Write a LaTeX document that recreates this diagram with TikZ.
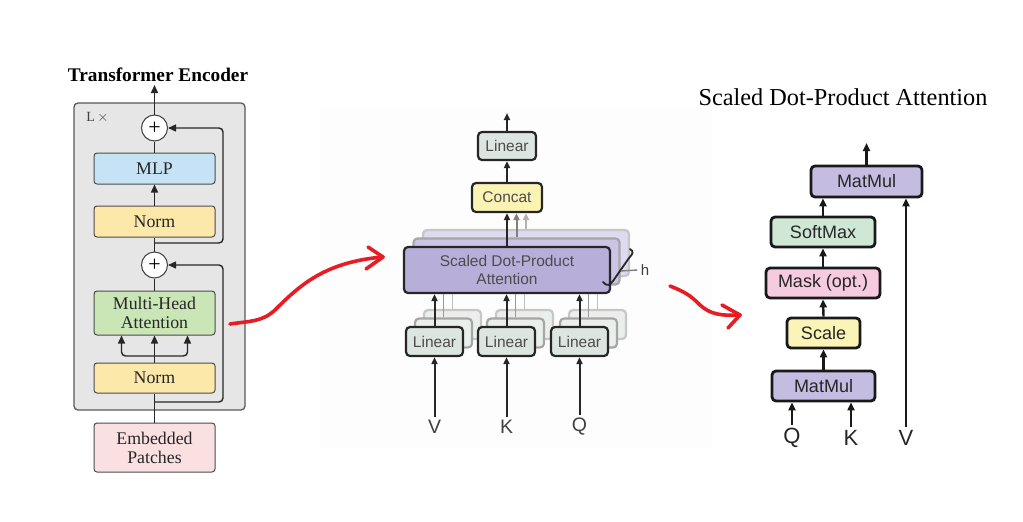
\documentclass[tikz,border=0pt]{standalone}
\usepackage{fontspec}
\setmainfont{Liberation Serif}
\newfontfamily\hvfam{Liberation Sans}
\usetikzlibrary{arrows.meta,calc}
\definecolor{encC}{HTML}{E6E6E6}
\definecolor{mlpC}{HTML}{C6E3F5}
\definecolor{normC}{HTML}{FCE8A9}
\definecolor{mhaC}{HTML}{CAE6B6}
\definecolor{embC}{HTML}{FAE0E0}
\definecolor{linC}{HTML}{DDE5E0}
\definecolor{linBC}{HTML}{EAEFEC}
\definecolor{concC}{HTML}{FAF3B4}
\definecolor{sdaC}{HTML}{B8AEDA}
\definecolor{sdbC}{HTML}{CBC4E5}
\definecolor{sdcC}{HTML}{DEDAEF}
\definecolor{mmC}{HTML}{C5BDE1}
\definecolor{smC}{HTML}{CFE8D6}
\definecolor{mkC}{HTML}{F6CADF}
\definecolor{scC}{HTML}{FBF4B7}
\definecolor{redC}{HTML}{E81C24}
\definecolor{bgC}{HTML}{FDFDFD}
\newcommand\myLfont{\fontsize{17.8}{19}\selectfont}
\newcommand\myMfont{\hvfam\fontsize{15.5}{18}\selectfont}
\newcommand\myRfont{\hvfam\fontsize{18}{21}\selectfont}
\tikzset{
  lbox/.style={draw=black!70, line width=1pt, rounded corners=3pt, minimum width=121pt, inner sep=0pt, font=\myLfont, text=black!85, align=center},
  circ/.style={circle, draw=black!75, line width=1pt, fill=white, minimum size=26pt, inner sep=0pt, font=\fontsize{22}{22}\selectfont},
  lln/.style={draw=black!85, line width=1.4pt},
  larr/.style={lln, -{Triangle[length=8pt,width=7pt]}},
  mbox/.style={draw=black!85, line width=2.2pt, rounded corners=4pt, inner sep=0pt, font=\myMfont, text=black!70, align=center},
  mback/.style={mbox, draw=black!35},
  mln/.style={draw=black!85, line width=2pt},
  marr/.style={mln, -{Triangle[length=7pt,width=6pt]}},
  gln/.style={draw=black!40, line width=1.6pt},
  rbox/.style={draw=black!90, line width=2.8pt, rounded corners=4pt, inner sep=0pt, minimum height=30pt, font=\myRfont, text=black!85},
  rarr/.style={draw=black!90, line width=2.4pt, -{Triangle[length=8pt,width=7pt]}},
  redarr/.style={draw=redC, line width=3.6pt, line cap=round, line join=round},
}
\begin{document}
\begin{tikzpicture}[x=1pt,y=-1pt]
\useasboundingbox (0,0) rectangle (1023,522);
\fill[white] (0,0) rectangle (1023,522);
% ---------- left panel ----------
\node[font=\bfseries\fontsize{19.3}{20}\selectfont] (title1) at (158,75) {Transformer Encoder};
\node[draw=black!65, line width=1.3pt, fill=encC, rounded corners=4pt, minimum width=171pt, minimum height=307pt, inner sep=0pt] (enc) at (159.5,256.5) {};
\node[font=\fontsize{14}{14}\selectfont, text=black!75] (lx) at (97.5,117.5) {L\,$\times$};
\node[lbox, fill=embC, minimum height=49pt] (emb) at (154.5,447.5) {Embedded\\Patches};
\node[lbox, fill=normC, minimum height=30pt] (norm1) at (154.5,378) {Norm};
\node[lbox, fill=mhaC, minimum height=44pt] (mha) at (154.5,313) {Multi-Head\\Attention};
\node[circ] (add1) at (154.5,265) {+};
\node[lbox, fill=normC, minimum height=31pt] (norm2) at (154.5,221.5) {Norm};
\node[lbox, fill=mlpC, minimum height=31pt] (mlp) at (154.5,168.5) {MLP};
\node[circ] (add2) at (154.5,128) {+};
\coordinate (r1) at (154.5,402);
\coordinate (rc1) at (223,402);
\coordinate (br) at (154.5,356);
\coordinate (r2) at (154.5,243);
\coordinate (rc2) at (223,243);
\coordinate (out1) at (154.5,85);
\draw[lln] (emb.north) -- (norm1.south);
\draw[larr, rounded corners=4pt] (r1) -- (rc1) |- (add1.east);
\draw[lln] (norm1.north) -- (br);
\draw[larr, rounded corners=4pt] (br) -| ([xshift=-33pt]mha.south);
\draw[larr, rounded corners=4pt] (br) -| ([xshift=33pt]mha.south);
\draw[larr] (br) -- (mha.south);
\draw[lln] (mha.north) -- (add1.south);
\draw[lln] (add1.north) -- (norm2.south);
\draw[larr, rounded corners=4pt] (r2) -- (rc2) |- (add2.east);
\draw[larr] (norm2.north) -- (mlp.south);
\draw[lln] (mlp.north) -- (add2.south);
\draw[larr] (add2.north) -- (out1);
% ---------- middle panel ----------
\fill[bgC] (320,108) rectangle (712,448);
\node[mbox, fill=linC, minimum width=58pt, minimum height=28pt] (linT) at (507,146) {Linear};
\node[mbox, fill=concC, minimum width=70pt, minimum height=29pt] (concat) at (507,197.5) {Concat};
\node[mback, fill=sdcC, draw=black!22, minimum width=206pt, minimum height=46pt] (sd3) at (526,253) {};
\node[mback, fill=sdbC, minimum width=206pt, minimum height=46pt] (sd2) at (516.5,261.5) {};
\foreach \n/\x in {a/434.5,b/506.5,c/579.5}{
  \node[mback, fill=linBC, draw=black!22, minimum width=57pt, minimum height=29pt] (lin\n3) at (\x+18,324.5) {};
  \node[mback, fill=linBC, minimum width=57pt, minimum height=29pt] (lin\n2) at (\x+9,333) {};
  \draw[gln, draw=black!25] (lin\n3.north) -- (lin\n3.north |- sd3.south);
  \draw[gln] (lin\n2.north) -- (lin\n2.north |- sd2.south);
}
\draw[marr, draw=black!30] (sd3.north) -- (sd3.north |- concat.south);
\draw[marr, draw=black!50] (sd2.north) -- (sd2.north |- concat.south);
\node[mbox, fill=sdaC, minimum width=206pt, minimum height=46pt] (sd1) at (507,270) {Scaled Dot-Product\\Attention};
\node[mbox, fill=linC, minimum width=57pt, minimum height=29pt] (lina) at (434.5,341.5) {Linear};
\node[mbox, fill=linC, minimum width=57pt, minimum height=29pt] (linb) at (506.5,341.5) {Linear};
\node[mbox, fill=linC, minimum width=57pt, minimum height=29pt] (linc) at (579.5,341.5) {Linear};
\node[font=\hvfam\fontsize{19.5}{19.5}\selectfont, text=black!75] (vm) at (434.5,427) {V};
\node[font=\hvfam\fontsize{19.5}{19.5}\selectfont, text=black!75] (km) at (506.5,427) {K};
\node[font=\hvfam\fontsize{19.5}{19.5}\selectfont, text=black!75] (qm) at (579.5,427) {Q};
\coordinate (mout) at (507,113);
\draw[marr] (linT.north) -- (mout);
\draw[marr] (concat.north) -- (linT.south);
\draw[marr] (sd1.north) -- (concat.south);
\draw[marr] (lina.north) -- (lina.north |- sd1.south);
\draw[marr] (linb.north) -- (linb.north |- sd1.south);
\draw[marr] (linc.north) -- (linc.north |- sd1.south);
\draw[marr] (vm.north) -- (lina.south);
\draw[marr] (km.north) -- (linb.south);
\draw[marr] (qm.north) -- (linc.south);
% brace h
\coordinate (hb1) at (603,282);
\coordinate (hb2) at (629,258);
\coordinate (hb3) at (630,249);
\draw[draw=black!85, line width=1.8pt, line cap=round] (hb1) .. controls (607,287) and (610,285) .. (613,281) -- (hb2) .. controls (633,254) and (634,251) .. (hb3);
\node[font=\hvfam\fontsize{15}{15}\selectfont, text=black!75] (hlab) at (645,270) {h};
\draw[draw=black!50, line width=1.4pt] (621,271) -- (hlab.west);
% ---------- right panel ----------
\node[font=\fontsize{24.3}{26}\selectfont] (title2) at (843,97) {Scaled Dot-Product Attention};
\node[rbox, fill=mmC, minimum width=111pt, minimum height=31pt] (mm2) at (866.5,181.5) {MatMul};
\node[rbox, fill=smC, minimum width=104pt] (sm) at (823,232) {SoftMax};
\node[rbox, fill=mkC, minimum width=114pt] (mk) at (823,283) {Mask (opt.)};
\node[rbox, fill=scC, minimum width=73pt] (sc) at (823.5,333) {Scale};
\node[rbox, fill=mmC, minimum width=103pt] (mm1) at (823.5,386) {MatMul};
\node[font=\hvfam\fontsize{22}{22}\selectfont, text=black!85] (qr) at (792,438) {Q};
\node[font=\hvfam\fontsize{22}{22}\selectfont, text=black!85] (kr) at (851,438) {K};
\node[font=\hvfam\fontsize{22}{22}\selectfont, text=black!85] (vr) at (906,438) {V};
\coordinate (rout) at (866.5,143);
\draw[rarr] (mm2.north) -- (rout);
\draw[rarr] (sm.north) -- (sm.north |- mm2.south);
\draw[rarr] (mk.north) -- (sm.south);
\draw[rarr] (sc.north) -- (mk.south);
\draw[rarr] (mm1.north) -- (sc.south);
\draw[rarr] (qr.north) -- (qr.north |- mm1.south);
\draw[rarr] (kr.north) -- (kr.north |- mm1.south);
\draw[rarr] (vr.north) -- (vr.north |- mm2.south);
% ---------- red hand-drawn arrows ----------
\coordinate (ra0) at (230,324);
\coordinate (ra1) at (383,257);
\draw[redarr] (ra0) .. controls (250,321) and (262,322) .. (275,310) .. controls (300,285) and (325,262) .. (ra1);
\draw[redarr] (368,247) -- (ra1) -- (366,269);
\coordinate (rb0) at (670,286);
\coordinate (rb1) at (740,315);
\draw[redarr] (rb0) .. controls (685,292) and (690,295) .. (700,305) .. controls (710,314) and (720,316) .. (rb1);
\draw[redarr] (722,305) -- (rb1) -- (728,328);
\end{tikzpicture}
\end{document}
